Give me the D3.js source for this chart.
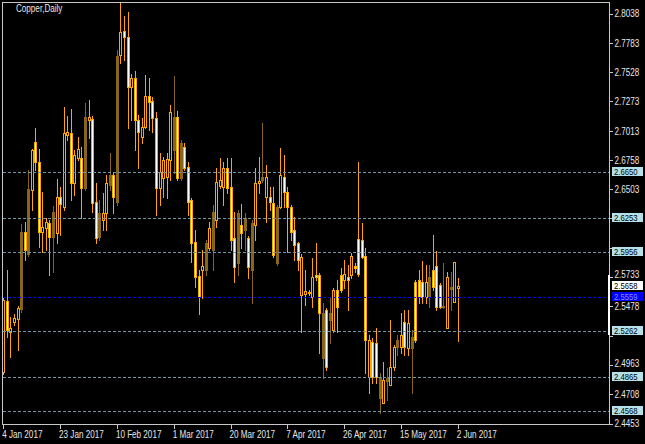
<!DOCTYPE html>
<html><head><meta charset="utf-8">
<script src="https://cdn.jsdelivr.net/npm/d3@7"></script>
<style>
html,body{margin:0;padding:0;background:#000;}
svg{display:block;}
text{font-family:"Liberation Sans",Arial,sans-serif;font-size:10px;}
</style></head><body>
<svg id="c" width="645" height="444"></svg>
<script>
// ---- data ----
const opens  = [2.4907,2.5527,2.5256,2.5344,2.5370,2.5457,2.6130,2.5938,2.6497,2.6917,2.6742,2.6130,2.6165,2.6209,2.6087,2.6122,2.6436,2.6349,2.6978,2.6996,2.6559,2.6777,2.6777,2.6515,2.7109,2.7118,2.6393,2.6087,2.6235,2.6296,2.6541,2.6628,2.6393,2.7677,2.7887,2.7835,2.7398,2.7476,2.7109,2.6961,2.7048,2.7319,2.7275,2.7127,2.6515,2.6602,2.6611,2.6760,2.6847,2.7135,2.6602,2.6873,2.6698,2.6410,2.6043,2.5746,2.5798,2.5798,2.5990,2.5973,2.6235,2.6532,2.6524,2.6690,2.6524,2.6078,2.5859,2.6191,2.6148,2.6078,2.5798,2.6191,2.6559,2.6585,2.6436,2.6436,2.6384,2.5859,2.6349,2.6611,2.6480,2.6349,2.6148,2.6034,2.5912,2.5588,2.5597,2.5562,2.5737,2.5754,2.5422,2.4950,2.5422,2.5274,2.5475,2.5754,2.5763,2.5711,2.5921,2.5816,2.6069,2.6060,2.5921,2.5186,2.4863,2.5160,2.4863,2.4636,2.4828,2.4793,2.4950,2.5125,2.5125,2.5125,2.5335,2.5116,2.5186,2.5711,2.5693,2.5693,2.5562,2.5650,2.5833,2.5667,2.5484,2.5291,2.5632,2.5519,2.5641];
const highs  = [2.5553,2.5798,2.5387,2.5414,2.5484,2.6200,2.6218,2.6672,2.6856,2.7039,2.6856,2.6480,2.6253,2.6235,2.6358,2.6594,2.6524,2.7223,2.7144,2.7205,2.6847,2.6961,2.6873,2.7258,2.7284,2.7144,2.6559,2.6410,2.6471,2.6628,2.6821,2.6655,2.7721,2.8130,2.8018,2.8053,2.7511,2.7537,2.7153,2.7127,2.7502,2.7476,2.7310,2.7179,2.6821,2.6786,2.6821,2.7240,2.7494,2.7188,2.6934,2.6908,2.6742,2.6427,2.6148,2.5798,2.5973,2.6060,2.6218,2.6366,2.6690,2.6777,2.6742,2.6777,2.6777,2.6305,2.6323,2.6375,2.6296,2.6095,2.6235,2.6690,2.6786,2.7083,2.6716,2.6524,2.6524,2.6366,2.6864,2.6803,2.6524,2.6366,2.6261,2.6043,2.5938,2.5798,2.5623,2.5903,2.6034,2.5772,2.5510,2.5466,2.5562,2.5641,2.5711,2.5816,2.5886,2.5842,2.5947,2.5859,2.6742,2.6209,2.5990,2.5230,2.5204,2.5291,2.4898,2.4994,2.4942,2.5361,2.5143,2.5230,2.5422,2.5449,2.5449,2.5274,2.5711,2.5798,2.5877,2.5842,2.5842,2.6104,2.5964,2.5685,2.5859,2.5781,2.5781,2.5868,2.5728];
const lows   = [2.4889,2.5213,2.5038,2.5317,2.5099,2.5431,2.5886,2.5921,2.6323,2.6672,2.5999,2.5956,2.5973,2.5754,2.5781,2.6034,2.6104,2.6323,2.6934,2.6410,2.6454,2.6760,2.6253,2.6497,2.6952,2.6305,2.6034,2.6060,2.6148,2.6148,2.6497,2.6296,2.6366,2.7607,2.7634,2.7039,2.7109,2.6847,2.6690,2.6908,2.7039,2.7022,2.7004,2.6279,2.6366,2.6436,2.6427,2.6585,2.6646,2.6585,2.6585,2.6672,2.6279,2.5868,2.5650,2.5414,2.5553,2.5754,2.5973,2.5798,2.6174,2.6515,2.6366,2.6471,2.5973,2.5693,2.5754,2.5990,2.5973,2.5728,2.5510,2.6060,2.6471,2.6567,2.6218,2.6323,2.5912,2.5842,2.6340,2.6349,2.5956,2.6060,2.5886,2.5798,2.5256,2.5492,2.5580,2.5475,2.5711,2.5073,2.4854,2.4924,2.5160,2.5256,2.5256,2.5606,2.5641,2.5449,2.5728,2.5781,2.5746,2.5903,2.4898,2.4723,2.4811,2.4811,2.4548,2.4636,2.4662,2.4793,2.4924,2.5055,2.5073,2.5055,2.5055,2.4723,2.5169,2.5510,2.5510,2.5510,2.5475,2.5623,2.5449,2.5466,2.5466,2.5291,2.5449,2.5519,2.5178];
const closes = [2.5536,2.5274,2.5291,2.5379,2.5466,2.6130,2.5973,2.6506,2.6847,2.6742,2.6130,2.6174,2.6218,2.6087,2.6305,2.6436,2.6375,2.6996,2.7004,2.6559,2.6803,2.6856,2.6515,2.7135,2.7135,2.6384,2.6078,2.6296,2.6296,2.6559,2.6628,2.6436,2.7669,2.7878,2.7835,2.7398,2.7476,2.7109,2.7004,2.7048,2.7319,2.7267,2.7127,2.6515,2.6655,2.6760,2.6768,2.7179,2.7135,2.6602,2.6908,2.6690,2.6393,2.6034,2.5737,2.5562,2.5833,2.6034,2.6165,2.6305,2.6567,2.6585,2.6690,2.6515,2.6060,2.5824,2.6296,2.6122,2.6253,2.5824,2.6209,2.6559,2.6576,2.6611,2.6611,2.6393,2.5929,2.6349,2.6628,2.6480,2.6349,2.6130,2.6017,2.5886,2.5580,2.5615,2.5606,2.5737,2.5754,2.5422,2.5029,2.5449,2.5361,2.5623,2.5623,2.5623,2.5711,2.5737,2.5754,2.5833,2.5763,2.5912,2.5186,2.4863,2.5169,2.4863,2.4679,2.4837,2.4854,2.4950,2.5125,2.5186,2.5230,2.5344,2.5116,2.5213,2.5693,2.5562,2.5562,2.5562,2.5737,2.5798,2.5475,2.5475,2.5475,2.5737,2.5650,2.5868,2.5658];
// candle drawing class seen in the picture: H hollow, W white-bodied, B shaded
const kinds = "HWHHHBWBHWWHHWBHWHHWHHWBHWWBHHBWBHWWHWWHHWWWHHHHBWBWWWWWHBHBHHHWWWBWBWBHHBHWWBHWWWWWHHHHWWBWBHWWHWHWWWWHWWBHBHHBHWHBWWWHBWWWBHBH".split("");
const yTicks = [2.8038,2.7783,2.7528,2.7273,2.7013,2.6758,2.6503,2.6248,2.5993,2.5733,2.5478,2.5218,2.4963,2.4708,2.4453];
const xTickLabels = ["4 Jan 2017","23 Jan 2017","10 Feb 2017","1 Mar 2017","20 Mar 2017","7 Apr 2017","26 Apr 2017","15 May 2017","2 Jun 2017"];
const levels = [2.6650,2.6253,2.5956,2.5262,2.4865,2.4568];
const bidLevel = 2.5559;
const lastLevel = 2.5658;
const rangeBar = [2.5754,2.5230];
const title = "Copper,Daily";

// trading days (Sunday sessions included, Saturdays skipped)
const months = ["Jan","Feb","Mar","Apr","May","Jun","Jul","Aug","Sep","Oct","Nov","Dec"];
const dates = [];
for (let d = new Date(2017,0,4); d <= new Date(2017,5,2); d.setDate(d.getDate()+1)) {
  if (d.getDay() !== 6) dates.push(`${d.getDate()} ${months[d.getMonth()]} ${d.getFullYear()}`);
}
const data = dates.map((dt,i)=>({i, dt, o:opens[i], h:highs[i], l:lows[i], c:closes[i], k:kinds[i]}));

// ---- layout ----
const L=2.5, R=609.5, T=2.5, B=424.5;
const svg = d3.select("#c");
svg.append("rect").attr("width",645).attr("height",444).attr("fill","#000");
const x = d3.scaleLinear().domain([0, dates.length-1]).range([3.3, 457.7]);
const y = d3.scaleLinear().domain([2.4450, 2.8131]).range([424, 3]);

svg.append("defs").append("clipPath").attr("id","pc").append("rect")
  .attr("x",3).attr("y",3).attr("width",606).attr("height",421);

const ORANGE="#ffa500", SHADE="#87661b";
const g = svg.append("g").attr("clip-path","url(#pc)").attr("shape-rendering","crispEdges");
const cd = g.selectAll("g.c").data(data).join("g");
cd.append("line")
  .attr("x1",d=>Math.round(x(d.i))+0.5).attr("x2",d=>Math.round(x(d.i))+0.5)
  .attr("y1",d=>Math.round(y(d.h))).attr("y2",d=>Math.round(y(d.l))+1)
  .attr("stroke",d=>d.k==="B"?SHADE:ORANGE).attr("stroke-width",1);
cd.each(function(d){
  const cx = Math.round(x(d.i));
  const top = Math.round(y(Math.max(d.o,d.c))), bot = Math.round(y(Math.min(d.o,d.c)));
  const hgt = Math.max(1, bot-top+1);
  const s = d3.select(this);
  if (d.k==="B") {
    s.append("rect").attr("x",cx-1).attr("y",top).attr("width",3).attr("height",hgt).attr("fill",SHADE);
  } else if (hgt<=2) {
    s.append("rect").attr("x",cx-1).attr("y",top).attr("width",3).attr("height",hgt).attr("fill",ORANGE);
  } else {
    s.append("rect").attr("x",cx-1).attr("y",top).attr("width",3).attr("height",hgt).attr("fill",ORANGE);
    s.append("rect").attr("x",cx).attr("y",top+1).attr("width",1).attr("height",hgt-2)
      .attr("fill",d.k==="W"?"#ffffff":"#000000");
  }
});

// horizontal level lines
const lv = svg.append("g").attr("shape-rendering","crispEdges");
lv.selectAll("line.lv").data(levels).join("line")
  .attr("x1",3).attr("x2",609).attr("y1",d=>Math.round(y(d))+0.5).attr("y2",d=>Math.round(y(d))+0.5)
  .attr("stroke","#7396a0").attr("stroke-dasharray","3,2");
lv.append("line").attr("x1",3).attr("x2",609)
  .attr("y1",Math.round(y(bidLevel))+0.5).attr("y2",Math.round(y(bidLevel))+0.5)
  .attr("stroke","#0000ff").attr("stroke-dasharray","3,2");

// frame
svg.append("rect").attr("x",L).attr("y",T).attr("width",R-L).attr("height",B-T)
  .attr("fill","none").attr("stroke","#c8c8c8").attr("shape-rendering","crispEdges");

// y axis (a scale label that sits under a price tag is covered in the terminal, so it is not written)
const tagLevels = levels.concat([lastLevel, bidLevel]);
const covered = v => tagLevels.some(t => Math.abs(y(t)-y(v)) < 8);
const ya = svg.append("g").attr("transform","translate(609.5,0)")
  .call(d3.axisRight(y).tickValues(yTicks).tickSize(3).tickPadding(2)
    .tickFormat(v => covered(v) ? "" : d3.format(".4f")(v)));
ya.select(".domain").remove();
ya.selectAll(".tick line").attr("stroke","#c8c8c8").attr("shape-rendering","crispEdges");
ya.selectAll(".tick text").attr("fill","#e6e6e6").style("font-size","10px");
// the label just above the last-price tag is pushed up in the terminal
ya.selectAll(".tick text").filter(v => tagLevels.some(t => y(t)-y(v) >= 8 && y(t)-y(v) < 12)).attr("y",-2.5);

// x axis
const tickIdx = xTickLabels.map(s=>dates.indexOf(s));
const xa = svg.append("g").attr("transform","translate(0,424.5)")
  .call(d3.axisBottom(x).tickValues(tickIdx).tickSize(4).tickPadding(2).tickFormat(i=>dates[i]));
xa.select(".domain").remove();
xa.selectAll(".tick line").attr("stroke","#c8c8c8").attr("shape-rendering","crispEdges");
xa.selectAll(".tick text").attr("fill","#e6e6e6").attr("text-anchor","start").attr("dx",-1.5).style("font-size","10px");
svg.selectAll("g.tick text").attr("font-family",null);

// price labels on the axis
const lab = svg.append("g");
function tag(v, bg, fg){
  const yy = Math.round(y(v));
  lab.append("rect").attr("x",612).attr("y",yy-5).attr("width",31).attr("height",9).attr("fill",bg).attr("shape-rendering","crispEdges");
  lab.append("text").attr("x",614).attr("y",yy-0.5).attr("dy","0.35em").attr("fill",fg).style("font-size","9.5px").text(d3.format(".4f")(v));
}
levels.forEach(v=>tag(v,"#b4e0ea","#000"));
tag(lastLevel,"#ffffff","#000");
tag(bidLevel,"#0000ff","#8a8aff");
svg.append("rect").attr("x",608).attr("y",Math.round(y(rangeBar[0]))).attr("width",2)
  .attr("height",Math.round(y(rangeBar[1]))-Math.round(y(rangeBar[0]))).attr("fill","#ffffff").attr("shape-rendering","crispEdges");

// title
svg.append("text").attr("x",16).attr("y",12).attr("fill","#e6e6e6").text(title);

// the terminal font is narrow: condense every text horizontally
svg.selectAll("text").each(function(){
  const len = this.getComputedTextLength();
  if (len > 0) d3.select(this).attr("textLength", (len*0.81).toFixed(1)).attr("lengthAdjust","spacingAndGlyphs");
});
</script>
</body></html>
